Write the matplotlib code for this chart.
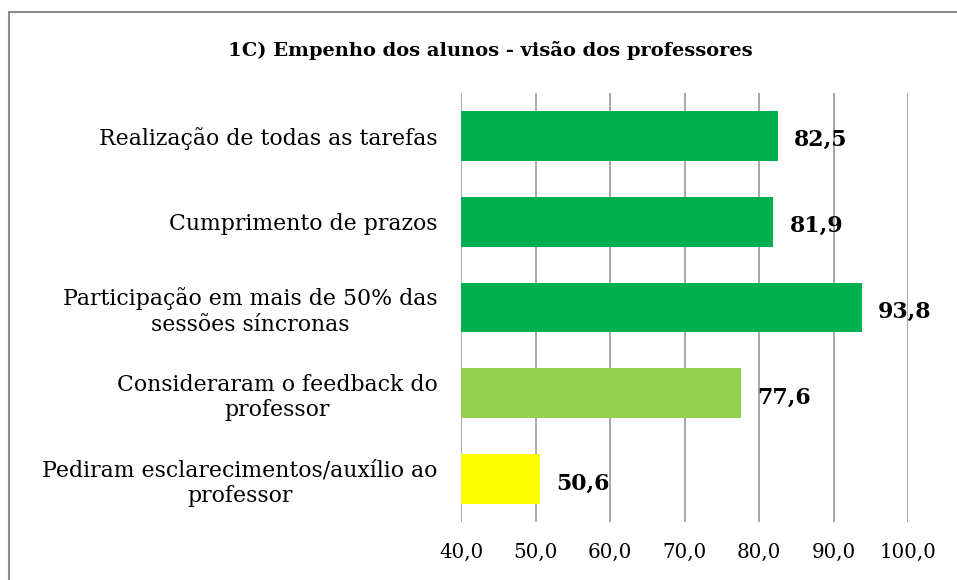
import matplotlib
matplotlib.use("Agg")
import matplotlib.pyplot as plt
from matplotlib.patches import Rectangle

categories = [
    "Realização de todas as tarefas",
    "Cumprimento de prazos",
    "Participação em mais de 50% das\nsessões síncronas",
    "Consideraram o feedback do\nprofessor",
    "Pediram esclarecimentos/auxílio ao\nprofessor",
]
values = [82.5, 81.9, 93.8, 77.6, 50.6]
colors = ["#00B050", "#00B050", "#00B050", "#92D050", "#FFFF00"]
xticks = [40, 50, 60, 70, 80, 90, 100]
title = "1C) Empenho dos alunos - visão dos professores"

serif = ["DejaVu Serif"]

fig = plt.figure(figsize=(9.57, 5.8), dpi=100)
ax = fig.add_axes([461/957, 1-522/580, (908-461)/957, (522-93)/580])

ypos = list(range(len(categories)))
ax.barh(ypos, [v - 40 for v in values], left=40, height=0.58, color=colors, zorder=3)
ax.set_xlim(40, 100)
ax.set_ylim(len(categories) - 0.5, -0.5)
ax.set_xticks(xticks)
ax.set_xticklabels([f"{t:.1f}".replace(".", ",") for t in xticks], family=serif, fontsize=14.3)
ax.set_yticks(ypos)
ax.set_yticklabels(categories, family=serif, fontsize=15.8, multialignment="center",
                   linespacing=1.2)
ax.tick_params(axis="x", length=0, pad=15)
ax.tick_params(axis="y", length=0, pad=17)
ax.grid(axis="x", color="#A0A0A0", linewidth=1.3, zorder=0)
for s in ax.spines.values():
    s.set_visible(False)

for y, v in zip(ypos, values):
    ax.text(v + 2.2, y + 0.05, f"{v:.1f}".replace(".", ","), va="center", ha="left",
            family=serif, fontsize=15.8, fontweight="bold")

fig.text(490.5/957, 1 - 50/580, title, ha="center", va="center", family=serif,
         fontsize=14.0, fontweight="bold")

fig.patches.append(Rectangle((9/957, -0.1), 1.2, 1.1 - 12/580, transform=fig.transFigure,
                             fill=False, edgecolor="#8C8C8C", linewidth=1.5))

fig.savefig("out.png", dpi=100)
